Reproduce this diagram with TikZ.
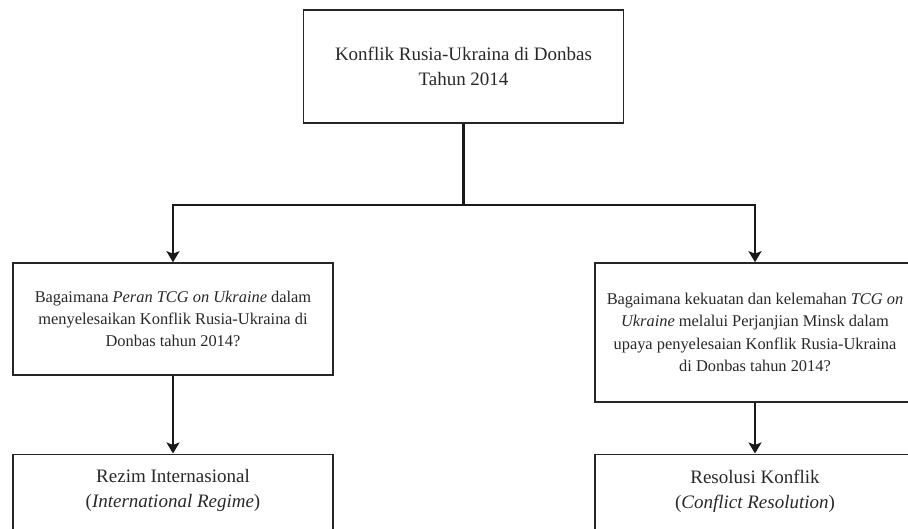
\documentclass[tikz,border=0pt]{standalone}
\usepackage{fontspec}
\setmainfont{Liberation Serif}
\usepackage{tikz}
\usetikzlibrary{arrows.meta,positioning}
\definecolor{txtgray}{RGB}{40,40,40}

\begin{document}
\begin{tikzpicture}[x=1pt,y=-1pt,text=txtgray,
  b/.style={draw=black!85,line width=1.6pt,align=center,inner sep=0pt,minimum width=320pt},
  big/.style={font=\fontsize{19}{25}\selectfont,align=center},
  sm/.style={font=\fontsize{16.4}{22.3}\selectfont},
  l/.style={line width=2.8pt,black!90},
  a/.style={l,-{Stealth[length=11pt,width=13pt,inset=2.5pt]}}]
  \useasboundingbox (0,0) rectangle (908,529);
  \clip (0,0) rectangle (908,529);
  \node[b,big,minimum height=113pt] (k) at (463.5,66.5) {Konflik Rusia-Ukraina di Donbas\\Tahun 2014};
  \node[b,sm,minimum height=112pt] (q1) at (173,319) {Bagaimana \textit{Peran TCG on Ukraine} dalam\\menyelesaikan Konflik Rusia-Ukraina di\\Donbas tahun 2014?};
  \node[b,sm,minimum height=139pt] (q2) at (755,332.5) {Bagaimana kekuatan dan kelemahan \textit{TCG on}\\\textit{Ukraine} melalui Perjanjian Minsk dalam\\upaya penyelesaian Konflik Rusia-Ukraina\\di Donbas tahun 2014?};
  \node[b,minimum height=110pt,anchor=north] (r1) at (173,453.5) {};
  \node[b,minimum height=110pt,anchor=north] (r2) at (755,453.5) {};
  \node[big,inner sep=0pt,below=16pt of r1.north] (r1t) {Rezim Internasional\\(\textit{International Regime})};
  \node[big,inner sep=0pt,below=16pt of r2.north] (r2t) {Resolusi Konflik\\(\textit{Conflict Resolution})};
  \coordinate (fork) at (463.5,205);
  \draw[l] (k) -- (fork);
  \draw[a] (fork) -| (q1);
  \draw[a] (fork) -| (q2);
  \foreach \u/\w in {q1/r1,q2/r2} \draw[a] (\u)--(\w);
\end{tikzpicture}
\end{document}
